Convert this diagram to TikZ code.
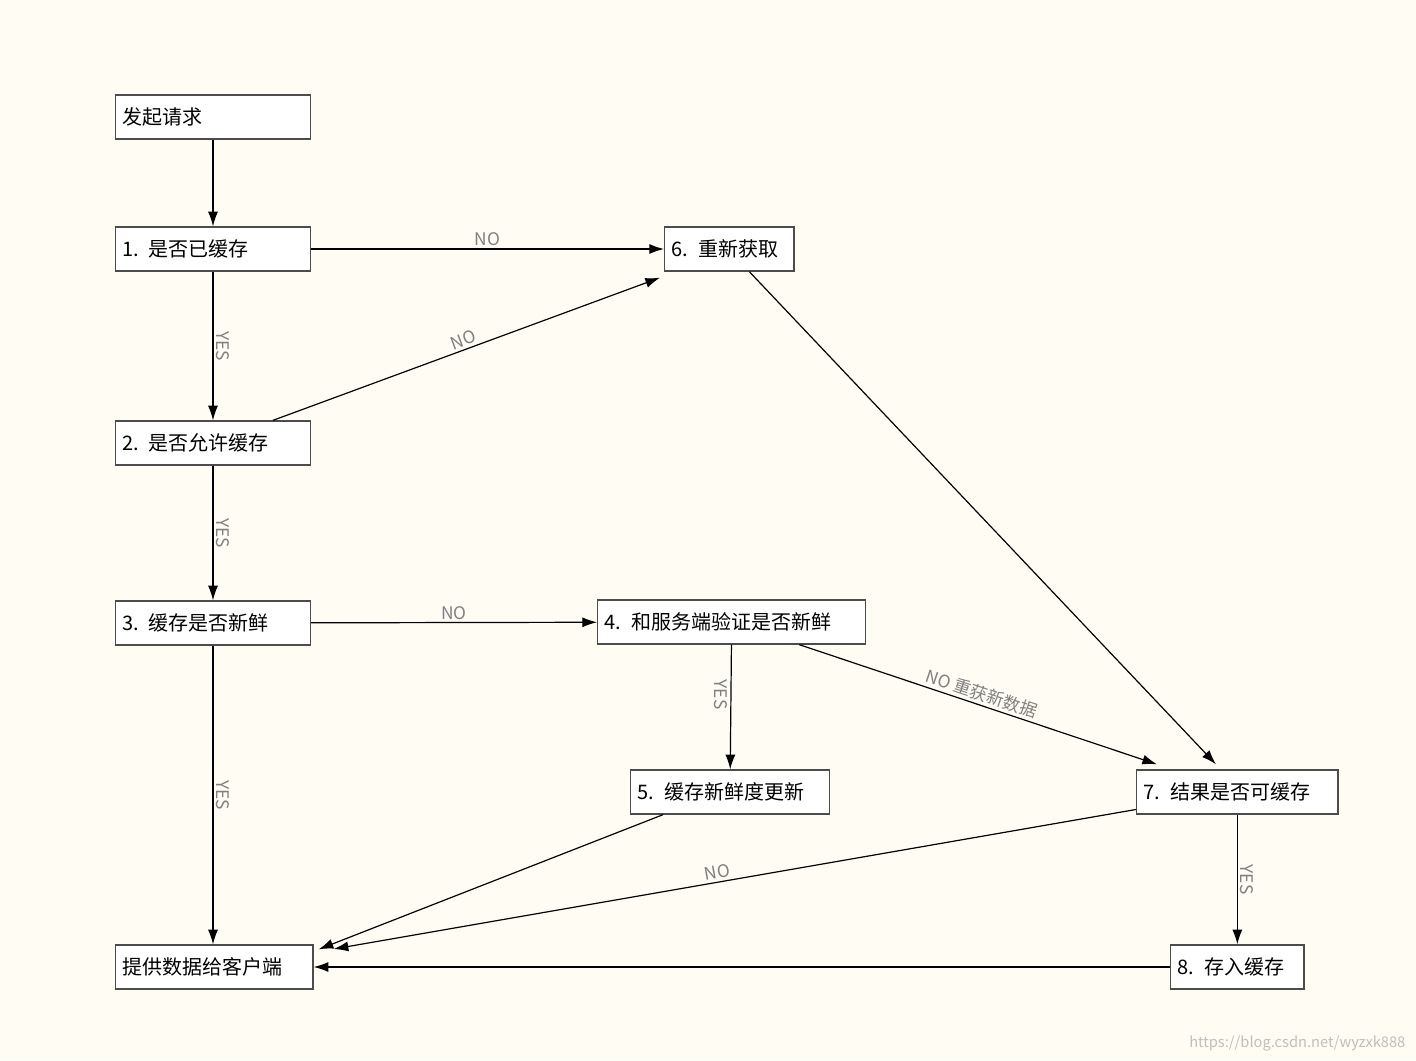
\documentclass[tikz,border=0pt]{standalone}
\usepackage{fontspec}
\setmainfont{Noto Sans CJK SC}
\usetikzlibrary{arrows.meta,calc}
\definecolor{bg}{HTML}{FFFCF4}
\tikzset{
 box/.style={draw=black!70,fill=white,line width=1pt,minimum height=33pt,inner xsep=5pt,inner ysep=4pt,anchor=west,align=left,font=\fontsize{15}{17}\selectfont,text=black},
 arr/.style={-{Latex[length=11pt,width=7.5pt]},line width=0.9pt},
 lab/.style={text=black!50,font=\fontsize{13}{15}\selectfont,inner sep=2pt},
 vlab/.style={lab,rotate=-90}
}
\begin{document}
\begin{tikzpicture}[x=0.75pt,y=-0.75pt]
\fill[bg] (0,0) rectangle (1416,1060);
\useasboundingbox (0,0) rectangle (1416,1060);
\node[box,text width=136pt] (s) at (115,117) {发起请求};
\node[box,text width=136pt] (n1) at (115,249) {1. 是否已缓存};
\node[box,text width=136pt] (n2) at (115,443) {2. 是否允许缓存};
\node[box,text width=136pt] (n3) at (115,623) {3. 缓存是否新鲜};
\node[box,text width=191pt] (n4) at (597,622) {4. 和服务端验证是否新鲜};
\node[box,text width=139pt] (n5) at (630,792) {5. 缓存新鲜度更新};
\node[box,text width=87pt] (n6) at (664,249) {6. 重新获取};
\node[box,text width=141pt] (n7) at (1136,792) {7. 结果是否可缓存};
\node[box,text width=90pt] (n8) at (1170,967) {8. 存入缓存};
\node[box,text width=138pt] (e) at (115,967) {提供数据给客户端};
\draw[arr] (s) -- (n1);
\draw[arr] (n1) -- node[lab,above]{NO} (n6);
\draw[arr] (n1) -- node[vlab,above]{YES} (n2);
\draw[arr] ($(n2.north east)+(-38,0)$) -- node[lab,sloped,above,pos=0.5]{NO} ($(n6.south west)+(-4,6)$);
\draw[arr] (n2) -- node[vlab,above]{YES} (n3);
\draw[arr] (n3) -- node[lab,above]{NO} (n4);
\draw[arr] (n3) -- node[vlab,above]{YES} (e.north -| n3);
\draw[arr] (n4) -- node[vlab,below,pos=0.4]{YES} (n5);
\draw[arr] (n4) -- node[lab,sloped,above,pos=0.5]{NO 重获新数据} ($(n7.north west)+(21,-5)$);
\draw[arr] ($(n6.south)+(20,0)$) -- ($(n7.north west)+(80,-5)$);
\draw[arr] ($(n5.south west)+(33,0)$) -- ($(e.north east)+(5,5)$);
\draw[arr] (n7) -- node[lab,sloped,above,pos=0.52]{NO} ($(e.east)+(20,-18)$);
\draw[arr] (n7) -- node[vlab,above]{YES} (n8);
\draw[arr] (n8) -- (e);
\node[text=black!25,font=\fontsize{11}{12}\selectfont,anchor=south east] (w) at (1410,1056) {https://blog.csdn.net/wyzxk888};
\end{tikzpicture}
\end{document}
